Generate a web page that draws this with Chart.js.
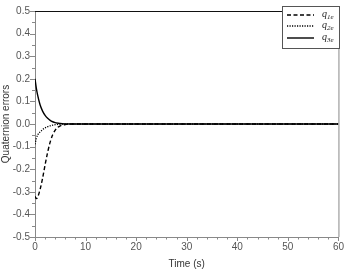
<!DOCTYPE html>
<html>
<head>
<meta charset="utf-8">
<script src="https://cdn.jsdelivr.net/npm/chart.js@4/dist/chart.umd.min.js"></script>
<style>
  html, body { margin: 0; padding: 0; background: #fff; }
  #chartBox { width: 348px; height: 270px; }
</style>
</head>
<body>
<div id="chartBox"><canvas id="errChart" width="348" height="270"></canvas></div>
<script>
// time samples (s) and quaternion error values
const timeSec = [0, 0.25, 0.5, 1, 1.5, 2, 2.5, 3, 3.5, 4, 4.5, 5, 6, 7, 8, 10, 20, 30, 40, 50, 60];
const q1e = [-0.32, -0.33, -0.325, -0.29, -0.24, -0.18, -0.125, -0.08, -0.048, -0.027, -0.015, -0.008, -0.002, 0, 0, 0, 0, 0, 0, 0, 0];
const q2e = [-0.09, -0.065, -0.05, -0.035, -0.025, -0.017, -0.012, -0.008, -0.005, -0.003, -0.002, -0.001, 0, 0, 0, 0, 0, 0, 0, 0, 0];
const q3e = [0.2, 0.16, 0.13, 0.085, 0.057, 0.038, 0.025, 0.016, 0.01, 0.006, 0.004, 0.002, 0.0005, 0, 0, 0, 0, 0, 0, 0, 0];
const seriesNames = [["q", "1e"], ["q", "2e"], ["q", "3e"]];
const yTicks = [-0.5, -0.4, -0.3, -0.2, -0.1, 0.0, 0.1, 0.2, 0.3, 0.4, 0.5];
const xTicks = [0, 10, 20, 30, 40, 50, 60];

const PLOT = { left: 35, top: 6, right: 341, bottom: 237 };

function toPoints(ys){
    return timeSec.map((t, i) => ({ x: t, y: ys[i] }));
}

const lineStyles = [
    { borderDash: [4, 2.5], borderWidth: 1.4 },
    { borderDash: [1.2, 1.3], borderWidth: 1.3 },
    { borderDash: [], borderWidth: 1.4 }
];

// minor ticks, top/right frame and the boxed legend
const framePlugin = {
    id: 'framePlugin',
    afterDraw(chart){
        const ctx = chart.ctx;
        const xs = chart.scales.x, ys = chart.scales.y;
        const a = chart.chartArea;
        ctx.save();
        ctx.lineWidth = 1;
        ctx.strokeStyle = '#888';
        ctx.beginPath();
        for(let k = -10; k <= 10; k++){
            let py = Math.round(ys.getPixelForValue(k * 0.05)) + 0.5;
            let len = (k % 2 === 0) ? 5 : 3;
            ctx.moveTo(a.left - len, py); ctx.lineTo(a.left, py);
        }
        for(let k = 0; k <= 30; k++){
            let px = Math.round(xs.getPixelForValue(k * 2)) + 0.5;
            let len = (k % 5 === 0) ? 4 : 2.5;
            ctx.moveTo(px, a.bottom); ctx.lineTo(px, a.bottom + len);
        }
        // right edge
        ctx.moveTo(a.right + 0.5, a.top); ctx.lineTo(a.right + 0.5, a.bottom);
        ctx.stroke();
        // top edge
        ctx.strokeStyle = '#111';
        ctx.beginPath();
        ctx.moveTo(a.left, a.top + 0.5); ctx.lineTo(a.right, a.top + 0.5);
        ctx.stroke();

        // legend box
        const bx = 282.5, by = 6.5, bw = 57, bh = 42;
        ctx.fillStyle = '#fff';
        ctx.fillRect(bx, by, bw, bh);
        ctx.strokeStyle = '#555';
        ctx.strokeRect(bx, by, bw, bh);
        const rows = [15, 26, 38];
        chart.data.datasets.forEach((ds, i) => {
            ctx.strokeStyle = '#000';
            ctx.lineWidth = ds.borderWidth;
            ctx.setLineDash(ds.borderDash);
            ctx.beginPath();
            ctx.moveTo(287, rows[i]); ctx.lineTo(314, rows[i]);
            ctx.stroke();
            ctx.setLineDash([]);
            ctx.fillStyle = '#222';
            ctx.textBaseline = 'alphabetic';
            ctx.textAlign = 'left';
            ctx.font = 'italic 10px "Liberation Serif"';
            ctx.fillText(seriesNames[i][0], 322, rows[i] + 2);
            ctx.font = 'italic 7px "Liberation Serif"';
            ctx.fillText(seriesNames[i][1], 327, rows[i] + 4);
        });
        ctx.restore();
    }
};

const tickFont = { family: '"Liberation Sans", Arial, sans-serif', size: 10 };

new Chart(document.getElementById('errChart'), {
    type: 'line',
    data: {
        datasets: [q1e, q2e, q3e].map((ys, i) => ({
            label: seriesNames[i].join(''),
            data: toPoints(ys),
            borderColor: '#000',
            borderWidth: lineStyles[i].borderWidth,
            borderDash: lineStyles[i].borderDash,
            pointRadius: 0,
            cubicInterpolationMode: 'monotone',
            fill: false
        }))
    },
    options: {
        responsive: false,
        animation: false,
        layout: { padding: { top: PLOT.top, right: 348 - PLOT.right - 3, left: 0, bottom: 0 } },
        plugins: { legend: { display: false }, tooltip: { enabled: false } },
        scales: {
            x: {
                type: 'linear',
                min: 0, max: 60,
                afterBuildTicks: (s) => { s.ticks = xTicks.map(v => ({ value: v })); },
                afterFit: (s) => { s.height = 270 - PLOT.bottom; },
                grid: { display: false, drawTicks: false },
                border: { display: true, color: '#888', width: 1 },
                ticks: { color: '#555', font: tickFont, padding: 4, maxRotation: 0, autoSkip: false },
                title: { display: true, text: 'Time (s)', color: '#333', font: { family: '"Liberation Sans", Arial, sans-serif', size: 10 }, padding: { top: 3, bottom: 0 } }
            },
            y: {
                min: -0.5, max: 0.5,
                afterBuildTicks: (s) => { s.ticks = yTicks.map(v => ({ value: v })); },
                afterFit: (s) => { s.width = PLOT.left; },
                grid: { display: false, drawTicks: false },
                border: { display: true, color: '#888', width: 1 },
                ticks: { color: '#555', font: tickFont, padding: 5, autoSkip: false,
                    callback: (v) => (Math.round(v * 10) / 10).toFixed(1) },
                title: { display: true, text: 'Quaternion errors', color: '#333', font: { family: '"Liberation Sans", Arial, sans-serif', size: 10 }, padding: 0 }
            }
        }
    },
    plugins: [framePlugin]
});
</script>
</body>
</html>
